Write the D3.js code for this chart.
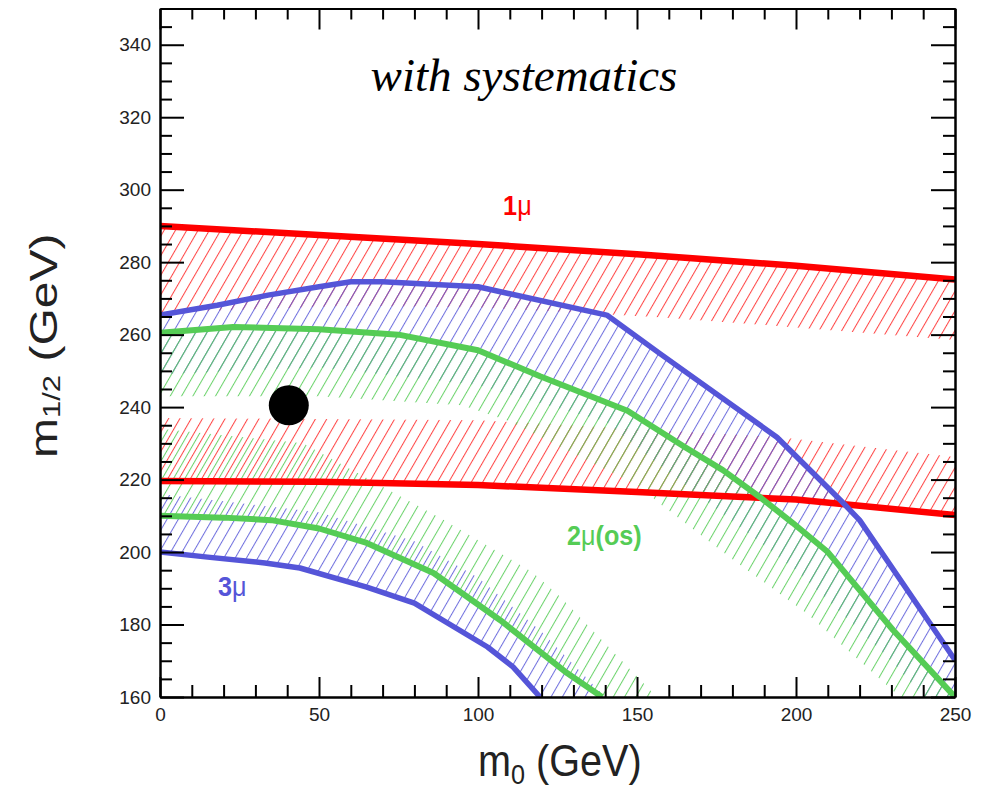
<!DOCTYPE html>
<html><head><meta charset="utf-8">
<script src="https://cdn.jsdelivr.net/npm/d3@7"></script>
<style>html,body{margin:0;padding:0;background:#fff;} svg{display:block;}</style>
</head><body>
<svg id="chart" width="983" height="792"></svg>
<script>
// ---------------- data: [m0, m1/2] in GeV ----------------
const xTicksMajor = [0, 50, 100, 150, 200, 250];
const yTicksMajor = [160, 180, 200, 220, 240, 260, 280, 300, 320, 340];

const oneMuUpper     = [[0,290],[50,287.5],[100,285],[150,282.2],[200,279],[250,275.2]];
const oneMuUpperBand = [[0,266],[60,268],[100,267.5],[157,264.8],[200,262],[250,258.5]];
const oneMuLower     = [[0,219.6],[50,219.4],[100,218.5],[150,216.6],[200,214.5],[250,210.2]];
const oneMuLowerBand = [[0,237],[100,236.4],[195,231.7],[250,226.2]];

const threeMuUpper     = [[0,265.4],[18,268.1],[34,270.9],[50,273.2],[60,274.6],[70,274.6],[100,273.2],[140.5,265.4],[157,254.9],[194,231.7],[214,214.3],[220,208.8],[250,170.2]];
const threeMuUpperBand = [[0,249],[50,251],[100,246],[140,236],[160,222],[200,195],[230,170],[250,150]];
const threeMuLower     = [[0,200],[15,198.6],[33,197],[44,195.6],[65,190.3],[80,185.9],[103,173.8],[111,168.3],[119.5,160]];
const threeMuLowerBand = [[0,216],[50,211],[80,203],[100,193],[120,178],[140,160]];

const twoMuUpper     = [[0,260.5],[23,262.1],[50,261.5],[75,260],[100,255.7],[119.5,248.5],[147,239],[165,229],[177,222.6],[188.6,215.2],[199,208],[210,200],[220,189.5],[230.5,178.5],[250,160]];
const twoMuUpperBand = [[0,243],[50,243],[95,240.5],[109,236.4],[151,218],[157,213.5],[180,198],[203.5,183],[232.7,160]];
const twoMuLower     = [[0,210],[20,209.5],[35,208.8],[50,206.5],[65,202.5],[86,194.2],[107,181.2],[128,166.6],[139,160]];
const twoMuLowerBand = [[0,234],[45,230],[70,218],[88,209.5],[117,194.5],[126,187.5],[154,162],[156,160]];

const bestPoint = [[40.5, 240.5]];

// ---------------- drawing ----------------
const svg = d3.select("#chart");
const L = 160, R = 955, T = 8.5, B = 697;
const x = d3.scaleLinear().domain([0, 250]).range([L, R]);
const y = d3.scaleLinear().domain([160, 350]).range([B, T]);

const RED = "#ff0000", BLUE = "#5555d8", GREEN = "#55cc55";
const defs = svg.append("defs");
defs.append("clipPath").attr("id", "plot").append("rect")
  .attr("x", L).attr("y", T).attr("width", R - L).attr("height", B - T);

const S = 9.8;
function hatch(id, color, off) {
  const p = defs.append("pattern").attr("id", id).attr("patternUnits", "userSpaceOnUse")
    .attr("width", S).attr("height", 10).attr("patternTransform", "rotate(30)");
  p.append("line").attr("x1", off).attr("x2", off).attr("y1", -1).attr("y2", 11)
    .attr("stroke", color).attr("stroke-width", 0.9);
}
hatch("hRed", "#ff2a2a", 2.5);
hatch("hBlue", "#5a5ad8", 2.5);
hatch("hGreen", "#55cc55", 2.5);
hatch("hGreenB", "#55cc55", 2.5 + S / 2);

const line = d3.line().x(d => x(d[0])).y(d => y(d[1]));
const plot = svg.append("g").attr("clip-path", "url(#plot)");

function band(lineData, edgeData, pat) {
  plot.append("path").attr("d", line(lineData.concat(edgeData.slice().reverse())) + "Z")
    .attr("fill", `url(#${pat})`).attr("stroke", "none");
}
band(oneMuUpper, oneMuUpperBand, "hRed");
band(threeMuLower, threeMuLowerBand, "hBlue");
band(twoMuLower, twoMuLowerBand, "hGreenB");
band(oneMuLower, oneMuLowerBand, "hRed");
band(threeMuUpper, threeMuUpperBand, "hBlue");
band(twoMuUpper, twoMuUpperBand, "hGreen");

function curve(data, color, w) {
  plot.append("path").attr("d", line(data)).attr("fill", "none")
    .attr("stroke", color).attr("stroke-width", w).attr("stroke-linejoin", "round");
}
curve(oneMuUpper, RED, 6.5);
curve(oneMuLower, RED, 6.5);
curve(threeMuUpper, BLUE, 5.5);
curve(threeMuLower, BLUE, 5.5);
curve(twoMuUpper, GREEN, 6);
curve(twoMuLower, GREEN, 6);

plot.selectAll("circle.best").data(bestPoint).enter().append("circle")
  .attr("cx", d => x(d[0])).attr("cy", d => y(d[1])).attr("r", 20).attr("fill", "#000");

// ---------------- axes ----------------
const yMinor = d3.range(160, 350, 5).filter(v => v % 20 !== 0);
const xMinor = d3.range(0, 251, 10).filter(v => v % 50 !== 0);
const font = "'Liberation Sans', Arial, Helvetica, sans-serif";

function styleAxis(g) {
  g.selectAll("path.domain").attr("stroke", "#000").attr("stroke-width", 2);
  g.selectAll(".tick line").attr("stroke", "#000").attr("stroke-width", 2);
  g.selectAll(".tick text").attr("font-family", font).attr("font-size", 19).attr("fill", "#222");
}
svg.append("g").attr("transform", `translate(${L},0)`)
  .call(d3.axisLeft(y).tickValues(yTicksMajor).tickSize(-24).tickSizeOuter(0).tickPadding(9).tickFormat(d3.format("d")))
  .call(styleAxis);
svg.append("g").attr("transform", `translate(${L},0)`)
  .call(d3.axisLeft(y).tickValues(yMinor).tickSize(-12).tickSizeOuter(0).tickFormat(""))
  .call(styleAxis);
svg.append("g").attr("transform", `translate(${R},0)`)
  .call(d3.axisRight(y).tickValues(yTicksMajor).tickSize(-24).tickSizeOuter(0).tickFormat(""))
  .call(styleAxis);
svg.append("g").attr("transform", `translate(${R},0)`)
  .call(d3.axisRight(y).tickValues(yMinor).tickSize(-12).tickSizeOuter(0).tickFormat(""))
  .call(styleAxis);
svg.append("g").attr("transform", `translate(0,${B})`)
  .call(d3.axisBottom(x).tickValues(xTicksMajor).tickSize(-20).tickSizeOuter(0).tickPadding(11).tickFormat(d3.format("d")))
  .call(styleAxis);
svg.append("g").attr("transform", `translate(0,${B})`)
  .call(d3.axisBottom(x).tickValues(xMinor).tickSize(-12).tickSizeOuter(0).tickFormat(""))
  .call(styleAxis);
svg.append("g").attr("transform", `translate(0,${T})`)
  .call(d3.axisTop(x).tickValues(xTicksMajor).tickSize(-21).tickSizeOuter(0).tickFormat(""))
  .call(styleAxis);
svg.append("g").attr("transform", `translate(0,${T})`)
  .call(d3.axisTop(x).tickValues(xMinor).tickSize(-11).tickSizeOuter(0).tickFormat(""))
  .call(styleAxis);

// ---------------- texts ----------------
svg.append("text").attr("x", 524).attr("y", 91).attr("text-anchor", "middle")
  .attr("font-family", "'Liberation Serif', 'Times New Roman', serif").attr("font-style", "italic")
  .attr("font-size", 47).attr("fill", "#000").text("with systematics");

const xt = svg.append("text").attr("transform", "translate(478,776) scale(0.9,1)")
  .attr("font-family", font).attr("font-size", 44).attr("fill", "#222");
xt.append("tspan").text("m");
xt.append("tspan").attr("font-size", 28).attr("dy", 8).text("0");
xt.append("tspan").attr("dy", -8).text(" (GeV)");

const yt = svg.append("text").attr("transform", "translate(57,458) rotate(-90) scale(1,0.8)")
  .attr("font-family", font).attr("font-size", 48).attr("fill", "#222");
yt.append("tspan").text("m");
yt.append("tspan").attr("font-size", 31).attr("dy", 4).text("1/2");
yt.append("tspan").attr("dy", -4).text(" (GeV)");

function label(parts, mx, my, color) {
  const t = svg.append("text").attr("transform", `translate(${x(mx)},${y(my)}) scale(0.9,1)`)
    .attr("font-family", font).attr("font-size", 28).attr("fill", color);
  parts.forEach(p => t.append("tspan").attr("font-weight", p[1]).text(p[0]));
}
label([["1", "bold"], ["μ", "normal"]], 107.9, 292.9, RED);
label([["2", "bold"], ["μ", "normal"], ["(os)", "bold"]], 128.0, 201.9, GREEN);
label([["3", "bold"], ["μ", "normal"]], 18.2, 187.9, BLUE);
</script>
</body></html>
